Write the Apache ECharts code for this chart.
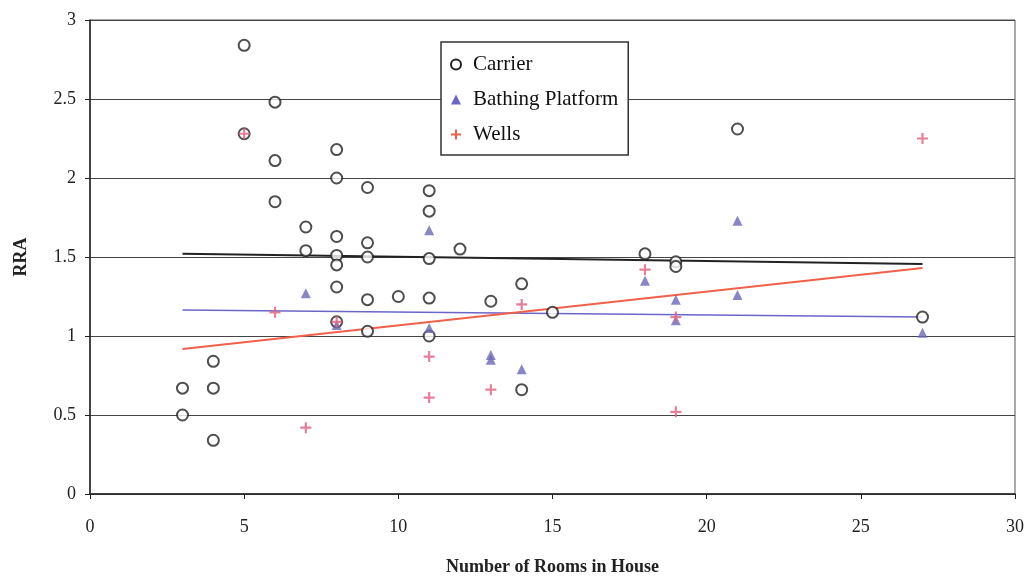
<!DOCTYPE html>
<html>
<head>
<meta charset="utf-8">
<script src="https://cdn.jsdelivr.net/npm/echarts@6/dist/echarts.min.js"></script>
<style>html,body{margin:0;padding:0;background:#fff}#c{width:1028px;height:578px}</style>
</head>
<body>
<div id="c"></div>
<script>
// Data (x = rooms, y = RRA)
var carrier = [
  [3,0.67],[3,0.50],[4,0.84],[4,0.67],[4,0.34],
  [5,2.84],[5,2.28],[6,2.48],[6,2.11],[6,1.85],
  [7,1.69],[7,1.54],
  [8,2.18],[8,2.00],[8,1.63],[8,1.51],[8,1.45],[8,1.31],[8,1.09],
  [9,1.94],[9,1.59],[9,1.50],[9,1.23],[9,1.03],
  [10,1.25],
  [11,1.92],[11,1.79],[11,1.49],[11,1.24],[11,1.00],
  [12,1.55],[13,1.22],[14,1.33],[14,0.66],[15,1.15],
  [18,1.52],[19,1.47],[19,1.44],[21,2.31],[27,1.12]
];
var bathing = [
  [7,1.27],[8,1.07],[11,1.67],[11,1.05],[13,0.88],[13,0.85],[14,0.79],
  [18,1.35],[19,1.23],[19,1.10],[21,1.73],[21,1.26],[27,1.02]
];
var wells = [
  [5,2.28],[6,1.15],[7,0.42],[8,1.09],[11,0.87],[11,0.61],[13,0.66],
  [14,1.20],[18,1.42],[19,1.12],[19,0.52],[27,2.25]
];
var carrierTrend = [[3,1.52],[27,1.455]];
var bathingTrend = [[3,1.165],[27,1.12]];
var wellsTrend = [[3,0.918],[27,1.43]];
var seriesNames = ['Carrier','Bathing Platform','Wells'];

var font = 'Liberation Serif';
var chart = echarts.init(document.getElementById('c'), null, {renderer:'canvas'});
chart.setOption({
  animation:false,
  backgroundColor:'#fff',
  textStyle:{fontFamily:font},
  grid:{left:90,right:13,top:20,bottom:84,containLabel:false,outerBoundsMode:'none',
        show:true,borderColor:'#555',borderWidth:1},
  legend:{
    data:[
      {name:seriesNames[0],icon:'emptyCircle'},
      {name:seriesNames[1],icon:'triangle'},
      {name:seriesNames[2],icon:'path://M4,0h2v4h4v2h-4v4h-2v-4h-4v-2h4z'}
    ],
    orient:'vertical',left:441,top:42,
    backgroundColor:'#fff',borderColor:'#333',borderWidth:1.5,borderRadius:0,
    padding:[12,10,10,9],itemGap:14,itemWidth:10,itemHeight:10,
    textStyle:{fontFamily:font,fontSize:21,color:'#111',padding:[0,0,0,7]}
  },
  xAxis:{
    type:'value',min:0,max:30,interval:5,
    name:'Number of Rooms in House',nameLocation:'middle',nameGap:64,
    nameTextStyle:{fontFamily:font,fontSize:18,fontWeight:'bold',color:'#222'},
    axisLine:{lineStyle:{color:'#222',width:1.5}},
    axisTick:{show:true,length:5,lineStyle:{color:'#222'}},
    axisLabel:{fontFamily:font,fontSize:18,color:'#222',margin:24},
    splitLine:{show:false}
  },
  yAxis:{
    type:'value',min:0,max:3,interval:0.5,
    name:'RRA',nameLocation:'middle',nameGap:60,
    nameTextStyle:{fontFamily:font,fontSize:18,fontWeight:'bold',color:'#222'},
    axisLine:{show:true,lineStyle:{color:'#222',width:1.5}},
    axisTick:{show:true,length:5,lineStyle:{color:'#222'}},
    axisLabel:{fontFamily:font,fontSize:18,color:'#222',margin:14},
    splitLine:{show:true,lineStyle:{color:'#444',width:1.2}}
  },
  series:[
    {name:seriesNames[0],type:'line',data:carrierTrend,showSymbol:false,silent:true,z:1,
     lineStyle:{color:'#222',width:2},itemStyle:{color:'#222'}},
    {name:seriesNames[1],type:'line',data:bathingTrend,showSymbol:false,silent:true,z:1,
     lineStyle:{color:'#6a66c8',width:1.5},itemStyle:{color:'#6a66c8'}},
    {name:seriesNames[2],type:'line',data:wellsTrend,showSymbol:false,silent:true,z:1,
     lineStyle:{color:'#f0604a',width:2},itemStyle:{color:'#f0604a'}},
    {name:seriesNames[0],type:'scatter',data:carrier,symbol:'emptyCircle',symbolSize:11,z:3,
     itemStyle:{color:'#222',borderColor:'#222',borderWidth:2.2}},
    {name:seriesNames[1],type:'scatter',data:bathing,symbol:'triangle',symbolSize:10,z:4,
     itemStyle:{color:'#6b68b8'}},
    {name:seriesNames[2],type:'scatter',data:wells,symbol:'path://M4,0h2v4h4v2h-4v4h-2v-4h-4v-2h4z',symbolSize:11,z:5,
     itemStyle:{color:'#e0607e'}}
  ]
});
</script>
</body>
</html>
